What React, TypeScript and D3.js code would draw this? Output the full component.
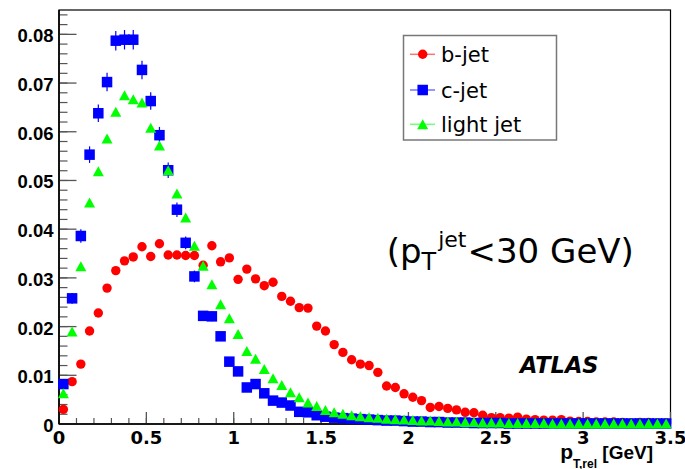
import React from 'react';
import * as d3 from 'd3';

const WIDTH = 685;
const HEIGHT = 469;

// Histogram binning of p_T,rel [GeV]
const BIN_LOW = 0;
const BIN_HIGH = 3.5;
const N_BINS = 70;

// b-jet (red circles)
const bJet = [
  0.0030, 0.0087, 0.0123, 0.0191, 0.0228, 0.0279, 0.0315, 0.0335, 0.0343, 0.0364,
  0.0344, 0.0370, 0.0347, 0.0347, 0.0346, 0.0346, 0.0326, 0.0366, 0.0333, 0.0341,
  0.0297, 0.0318, 0.0298, 0.0284, 0.0291, 0.0262, 0.0252, 0.0239, 0.0238, 0.0201,
  0.0191, 0.0163, 0.0147, 0.0132, 0.0123, 0.0120, 0.0106, 0.0078, 0.0075, 0.0062,
  0.0055, 0.0048, 0.0034, 0.0036, 0.0032, 0.0029, 0.0024, 0.0023, 0.0018, 0.0013,
  0.0013, 0.0012, 0.0014, 0.0010, 0.0009, 0.0008, 0.0008, 0.0009, 0.0006, 0.0005,
  0.0005, 0.0004, 0.0004, 0.0004, 0.0003, 0.0002, 0.0003, 0.0003, 0.0002, 0.0002,
];

// c-jet (blue squares)
const cJet = [
  0.0082, 0.0258, 0.0386, 0.0553, 0.0638, 0.0702, 0.0787, 0.0789, 0.0789, 0.0727,
  0.0663, 0.0593, 0.0521, 0.0440, 0.0372, 0.0303, 0.0222, 0.0221, 0.0180, 0.0128,
  0.0108, 0.0075, 0.0082, 0.0063, 0.0048, 0.0044, 0.0038, 0.0025, 0.0024, 0.0018,
  0.0015, 0.0013, 0.0012, 0.0011, 0.0010, 0.0009, 0.0008, 0.0007, 0.0007, 0.0006,
  0.0005, 0.0005, 0.0004, 0.0004, 0.0003, 0.0003, 0.0003, 0.0002, 0.0002, 0.0002,
  0.0002, 0.0001, 0.0001, 0.0001, 0.0001, 0.0001, 0.0001, 0.0001, 0.0001, 0.0001,
  0.0001, 0.0001, 0.0001, 0.0001, 0.0001, 0.0001, 0.0001, 0.0001, 0.0001, 0.0001,
];

// c-jet statistical errors
const cJetErr = [
  0.0006, 0.0011, 0.0014, 0.0017, 0.0018, 0.0019, 0.0020, 0.0020, 0.0020, 0.0019,
  0.0018, 0.0017, 0.0016, 0.0015, 0.0013, 0.0012, 0.0010, 0.0010, 0.0009, 0.0008,
  0.0007, 0.0006, 0.0006, 0.0005, 0.0005, 0.0004, 0.0004, 0.0003, 0.0003, 0.0003,
  0.0002, 0.0002, 0.0002, 0.0002, 0.0002, 0.0002, 0.0002, 0.0002, 0.0002, 0.0002,
  0.0002, 0.0002, 0.0002, 0.0002, 0.0002, 0.0002, 0.0002, 0.0002, 0.0002, 0.0002,
  0.0001, 0.0001, 0.0001, 0.0001, 0.0001, 0.0001, 0.0001, 0.0001, 0.0001, 0.0001,
  0.0001, 0.0001, 0.0001, 0.0001, 0.0001, 0.0001, 0.0001, 0.0001, 0.0001, 0.0001,
];

// light jet (green triangles)
const lightJet = [
  0.0063, 0.0190, 0.0324, 0.0455, 0.0519, 0.0586, 0.0641, 0.0675, 0.0667, 0.0660,
  0.0608, 0.0572, 0.0521, 0.0473, 0.0424, 0.0366, 0.0325, 0.0287, 0.0246, 0.0217,
  0.0185, 0.0150, 0.0134, 0.0113, 0.0094, 0.0080, 0.0065, 0.0055, 0.0044, 0.0037,
  0.0029, 0.0024, 0.0021, 0.0018, 0.0016, 0.0014, 0.0013, 0.0011, 0.0010, 0.0009,
  0.0008, 0.0007, 0.0007, 0.0006, 0.0005, 0.0005, 0.0004, 0.0004, 0.0003, 0.0003,
  0.0003, 0.0002, 0.0002, 0.0002, 0.0002, 0.0002, 0.0001, 0.0001, 0.0001, 0.0001,
  0.0001, 0.0001, 0.0001, 0.0001, 0.0001, 0.0001, 0.0001, 0.0001, 0.0001, 0.0001,
];

const legendLabels = ['b-jet', 'c-jet', 'light jet'];
const yMajorTicks = [0, 0.01, 0.02, 0.03, 0.04, 0.05, 0.06, 0.07, 0.08];
const xMajorTicks = [0, 0.5, 1, 1.5, 2, 2.5, 3, 3.5];

const RED = '#ff0000';
const BLUE = '#0000ff';
const GREEN = '#00ff00';

const SANS_BOLD = "'Liberation Sans', Arial, sans-serif";
const DEJAVU = "'DejaVu Sans', sans-serif";

function Circle({ cx, cy, color }: { cx: number; cy: number; color: string }) {
  return <circle cx={cx} cy={cy} r={4.7} fill={color} />;
}
function Square({ cx, cy, color }: { cx: number; cy: number; color: string }) {
  const s = 10.5;
  return <rect x={cx - s / 2} y={cy - s / 2} width={s} height={s} fill={color} />;
}
function Triangle({ cx, cy, color }: { cx: number; cy: number; color: string }) {
  const w = 11, h = 10;
  const p = `${cx - w / 2},${cy + h / 2} ${cx + w / 2},${cy + h / 2} ${cx},${cy - h / 2}`;
  return <polygon points={p} fill={color} />;
}

export default function App() {
  const binWidth = (BIN_HIGH - BIN_LOW) / N_BINS;
  const centers = d3.range(N_BINS).map((i) => BIN_LOW + (i + 0.5) * binWidth);

  const x = d3.scaleLinear().domain([0, 3.5]).range([59, 670.5]);
  const y = d3.scaleLinear().domain([0, 0.085]).range([424, 10]);

  const [x0, x1] = x.range();
  const [y0, y1] = y.range();

  const yMinor = d3.range(0, 42.5).map((i) => i * 0.002).filter((v) => v <= 0.085);
  const xMinor = d3.range(0, 35.5).map((i) => i * 0.1).filter((v) => v <= 3.5);

  const fmtY = (v: number) => (v === 0 ? '0' : d3.format('.2f')(v));
  const fmtX = (v: number) => d3.format('~g')(v);

  const tickColor = '#555';

  return (
    <svg
      width={WIDTH}
      height={HEIGHT}
      style={{ position: 'absolute', left: 0, top: 0, background: '#fff' }}
    >
      <rect x={0} y={0} width={WIDTH} height={HEIGHT} fill="#fff" />
      {/* frame */}
      <rect x={x0} y={y1} width={x1 - x0} height={y0 - y1} fill="none" stroke="#000" strokeWidth={1.2} />

      {/* y ticks */}
      {yMinor.map((v, i) => (
        <line key={'ym' + i} x1={x0} x2={x0 + 8.5} y1={y(v)} y2={y(v)} stroke={tickColor} strokeWidth={1.2} />
      ))}
      {yMajorTicks.map((v) => (
        <line key={'yM' + v} x1={x0} x2={x0 + 17.5} y1={y(v)} y2={y(v)} stroke={tickColor} strokeWidth={1.3} />
      ))}
      {yMajorTicks.map((v) => (
        <text
          key={'yl' + v}
          x={53.5}
          y={y(v) + 8}
          textAnchor="end"
          fontFamily={SANS_BOLD}
          fontWeight="bold"
          fontSize={18.5}
          fill="#000"
        >
          {fmtY(v)}
        </text>
      ))}

      {/* x ticks */}
      {xMinor.map((v, i) => (
        <line key={'xm' + i} x1={x(v)} x2={x(v)} y1={y0} y2={y0 - 6} stroke={tickColor} strokeWidth={1.2} />
      ))}
      {xMajorTicks.map((v) => (
        <line key={'xM' + v} x1={x(v)} x2={x(v)} y1={y0} y2={y0 - 12} stroke={tickColor} strokeWidth={1.3} />
      ))}
      {xMajorTicks.map((v) => (
        <text
          key={'xl' + v}
          x={x(v)}
          y={443.5}
          textAnchor="middle"
          fontFamily={DEJAVU}
          fontWeight="bold"
          fontSize={18}
          fill="#000"
        >
          {fmtX(v)}
        </text>
      ))}

      {/* axes lines */}
      <line x1={x0} x2={x0} y1={y0} y2={y1} stroke="#000" strokeWidth={1.6} />
      <line x1={x0} x2={x1} y1={y0} y2={y0} stroke="#000" strokeWidth={1.6} />

      {/* x axis title */}
      <text x={653} y={459} textAnchor="end" fontFamily={SANS_BOLD} fontWeight="bold" fill="#000">
        <tspan fontSize={21}>p</tspan>
        <tspan fontSize={12} dy={8.5}>T,rel</tspan>
        <tspan fontSize={19} dy={-8.5}> [GeV]</tspan>
      </text>

      {/* data: b-jet */}
      {bJet.map((v, i) => (
        <Circle key={'b' + i} cx={x(centers[i])} cy={y(v)} color={RED} />
      ))}
      {/* data: c-jet with error bars */}
      {cJet.map((v, i) => (
        <g key={'c' + i}>
          <line
            x1={x(centers[i])}
            x2={x(centers[i])}
            y1={y(v - cJetErr[i])}
            y2={y(v + cJetErr[i])}
            stroke={BLUE}
            strokeWidth={1.2}
          />
          <line
            x1={x(centers[i] - binWidth / 2)}
            x2={x(centers[i] + binWidth / 2)}
            y1={y(v)}
            y2={y(v)}
            stroke={BLUE}
            strokeWidth={1.2}
          />
          <Square cx={x(centers[i])} cy={y(v)} color={BLUE} />
        </g>
      ))}
      {/* data: light jet */}
      {lightJet.map((v, i) => (
        <Triangle key={'l' + i} cx={x(centers[i])} cy={y(v)} color={GREEN} />
      ))}

      {/* legend */}
      <rect x={403.5} y={35.5} width={153} height={104.5} fill="#fff" stroke="#777" strokeWidth={1.5} />
      {legendLabels.map((label, i) => {
        const cy = [54.3, 90, 124.3][i];
        const color = [RED, BLUE, GREEN][i];
        return (
          <g key={label}>
            <line x1={410} x2={435} y1={cy} y2={cy} stroke={color} strokeOpacity={0.55} strokeWidth={1.5} />
            {i === 0 && <Circle cx={422.7} cy={cy} color={color} />}
            {i === 1 && <Square cx={422.7} cy={cy} color={color} />}
            {i === 2 && <Triangle cx={422.7} cy={cy} color={color} />}
            <text x={441} y={cy + 7.5} fontFamily={DEJAVU} fontSize={21} fill="#000">
              {label}
            </text>
          </g>
        );
      })}

      {/* annotation */}
      <text x={386.7} y={263.3} fontFamily={DEJAVU} fontSize={34} fill="#000">
        <tspan>(p</tspan>
        <tspan fontSize={24} dy={6.7}>T</tspan>
        <tspan fontSize={22} dy={-23.3} dx={2}>jet</tspan>
        <tspan dy={16.6} dx={1}>&lt;30 GeV)</tspan>
      </text>

      {/* ATLAS */}
      <text
        x={520}
        y={372.7}
        fontFamily={DEJAVU}
        fontWeight="bold"
        fontStyle="italic"
        fontSize={22.5}
        fill="#000"
      >
        ATLAS
      </text>
    </svg>
  );
}
